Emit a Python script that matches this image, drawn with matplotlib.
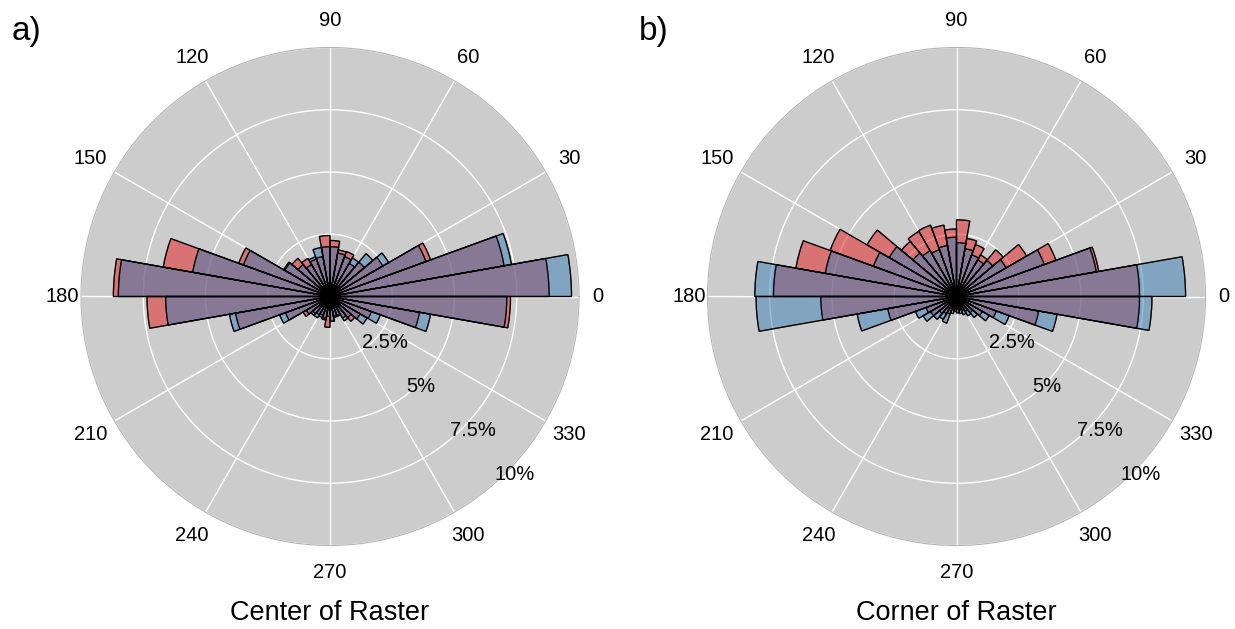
import numpy as np
import matplotlib
matplotlib.use('Agg')
import matplotlib.pyplot as plt
from matplotlib.transforms import ScaledTranslation

plt.rcParams['font.family'] = ['Liberation Sans', 'DejaVu Sans']

# ── Data: % of samples per 10° direction bin (0-10, 10-20, ... 350-360) ──────
bin_start_deg = np.arange(0, 360, 10)

center_red = [8.8, 7.1, 4.3, 2.45, 1.8, 1.54, 1.92, 1.9, 2.25, 2.45,
              1.63, 1.6, 1.77, 2.0, 2.15, 3.9, 6.8, 8.7, 7.35, 3.85,
              1.9, 1.25, 0.9, 0.85, 0.8, 0.96, 1.24, 1.0, 0.8, 0.8,
              1.0, 1.3, 1.4, 1.77, 3.65, 7.25]
center_blue = [9.7, 7.4, 4.1, 2.72, 2.25, 1.79, 1.7, 1.77, 2.0, 2.0,
               2.0, 1.7, 1.48, 1.68, 2.1, 3.7, 5.6, 8.5, 6.6, 4.1,
               2.15, 1.1, 1.0, 0.99, 0.9, 0.9, 0.8, 1.0, 0.85, 0.85,
               1.13, 1.1, 1.72, 2.15, 4.1, 7.1]

corner_red = [7.35, 5.8, 4.25, 3.25, 2.45, 1.93, 2.22, 2.37, 3.08, 2.71,
              2.91, 3.05, 3.02, 2.89, 4.15, 5.4, 6.55, 7.35, 5.45, 2.8,
              1.3, 1.2, 0.9, 0.8, 0.75, 0.7, 0.5, 0.5, 0.55, 0.6,
              0.7, 0.85, 1.2, 1.7, 3.35, 7.35]
corner_blue = [9.2, 5.7, 3.75, 2.3, 1.9, 1.7, 1.78, 1.95, 2.16, 2.38,
               2.08, 2.0, 2.12, 2.28, 3.12, 3.55, 5.35, 8.1, 8.05, 4.05,
               1.75, 1.55, 1.2, 1.06, 1.14, 0.55, 0.6, 0.66, 0.7, 0.78,
               0.9, 1.1, 1.52, 2.25, 4.1, 7.85]

r_ticks = [2.5, 5, 7.5, 10]
r_tick_labels = ['2.5%', '5%', '7.5%', '10%']
theta_ticks = list(range(0, 360, 30))
panel_titles = ['Center of Raster', 'Corner of Raster']
panel_tags = ['a)', 'b)']

RED = '#e41a1c'
BLUE = '#377eb8'
BG = '#cccccc'

W, H = 1235, 629
fig = plt.figure(figsize=(W / 100, H / 100), dpi=100)

R_PX = 249
centers = [(330, 296.5), (956.5, 296.5)]
series = [(center_red, center_blue), (corner_red, corner_blue)]

theta = np.deg2rad(bin_start_deg)
width = np.deg2rad(10)

for (cx, cy), (reds, blues), title, tag in zip(centers, series, panel_titles, panel_tags):
    ax = fig.add_axes([(cx - R_PX) / W, (H - cy - R_PX) / H, 2 * R_PX / W, 2 * R_PX / H],
                      projection='polar')
    ax.set_facecolor(BG)
    ax.bar(theta, reds, width=width, align='edge', color=RED, alpha=0.5,
           edgecolor='black', linewidth=0.9, zorder=2)
    ax.bar(theta, blues, width=width, align='edge', color=BLUE, alpha=0.5,
           edgecolor='black', linewidth=0.9, zorder=3)
    # edges drawn opaque on top
    ax.bar(theta, reds, width=width, align='edge', fill=False,
           edgecolor='black', linewidth=0.9, zorder=4)
    ax.bar(theta, blues, width=width, align='edge', fill=False,
           edgecolor='black', linewidth=0.9, zorder=4)

    ax.set_ylim(0, 10)
    ax.set_thetagrids(theta_ticks, [''] * len(theta_ticks))
    ax.set_rgrids(r_ticks, [''] * len(r_ticks), angle=-45)
    ax.grid(True, color='white', linewidth=1.0)
    ax.set_axisbelow(True)
    ax.spines['polar'].set_color('#b5b5b5')
    ax.spines['polar'].set_linewidth(0.8)

    # angle labels just outside the circle
    for t in theta_ticks:
        r_lab = 10.75 if t in (0, 180) else 11.1
        ax.text(np.deg2rad(t), r_lab, str(t), ha='center', va='center',
                fontsize=14.5, clip_on=False)

    # radial labels along the -45° direction
    shift = ax.transData + ScaledTranslation(-0.12, -0.02, fig.dpi_scale_trans)
    for r, lab in zip(r_ticks, r_tick_labels):
        ax.text(np.deg2rad(-45), r, lab, transform=shift, ha='left', va='center',
                fontsize=14.5, zorder=5, clip_on=False)

    fig.text(cx / W, 1 - 613 / H, title, ha='center', va='center', fontsize=19.5)
    fig.text((cx - 318) / W, 1 - 16 / H, tag, ha='left', va='top', fontsize=24)

fig.savefig('out.png', dpi=100, facecolor='white')
